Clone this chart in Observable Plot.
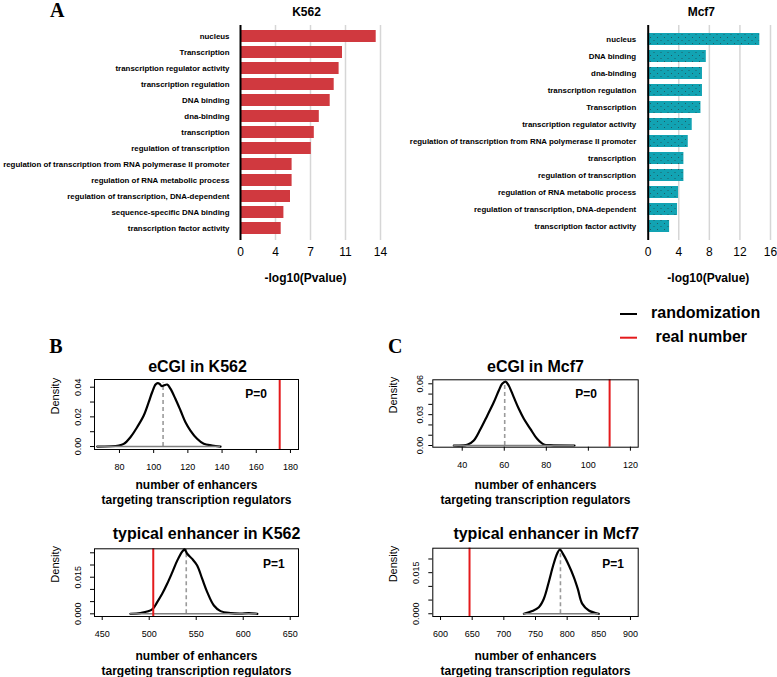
<!DOCTYPE html>
<html>
<head>
<meta charset="utf-8">
<script src="https://cdn.jsdelivr.net/npm/d3@7"></script>
<script src="https://cdn.jsdelivr.net/npm/@observablehq/plot@0.6"></script>
<style>
  html, body { margin: 0; padding: 0; background: #fff; }
  #root { position: relative; width: 777px; height: 677px; overflow: hidden; background: #fff; }
  .pane { position: absolute; }
  .pane svg { overflow: visible; }
</style>
</head>
<body>
<svg width="0" height="0" style="position:absolute">
  <defs>
    <pattern id="dots" width="7" height="6" patternUnits="userSpaceOnUse">
      <rect width="7" height="6" fill="#12a3b3"></rect>
      <circle cx="1.5" cy="1.5" r="0.5" fill="#24454c"></circle>
      <circle cx="5" cy="4.5" r="0.5" fill="#24454c"></circle>
    </pattern>
  </defs>
</svg>
<div id="root"></div>
<script>
// ---------------- data ----------------
const k562Terms = ["nucleus", "Transcription", "transcription regulator activity", "transcription regulation",
  "DNA binding", "dna-binding", "transcription", "regulation of transcription",
  "regulation of transcription from RNA polymerase II promoter", "regulation of RNA metabolic process",
  "regulation of transcription, DNA-dependent", "sequence-specific DNA binding", "transcription factor activity"];
const k562Values = [13.57, 10.2, 9.86, 9.37, 8.97, 7.88, 7.38, 7.08, 5.16, 5.16, 5.0, 4.34, 4.07];
const k562Ticks = [0, 3.5, 7, 10.5, 14];

const mcf7Terms = ["nucleus", "DNA binding", "dna-binding", "transcription regulation", "Transcription",
  "transcription regulator activity", "regulation of transcription from RNA polymerase II promoter",
  "transcription", "regulation of transcription", "regulation of RNA metabolic process",
  "regulation of transcription, DNA-dependent", "transcription factor activity"];
const mcf7Values = [14.6, 7.6, 7.1, 7.1, 6.9, 5.76, 5.24, 4.67, 4.67, 3.97, 3.84, 2.8];
const mcf7Ticks = [0, 4, 8, 12, 16];

const barTitles = ["K562", "Mcf7"];
const barXLabel = "-log10(Pvalue)";

// density curves (randomization)
const kEx = [67, 79.6, 82.5, 86.4, 90.3, 94.2, 97.1, 99.1, 101.1, 102.4, 103.5, 104.6, 106, 107.9, 109.8, 112.7, 115.7, 118.6, 121.5, 125.4, 129.3, 134.2, 139.1];
const kEy = [0, 0.0007, 0.0018, 0.0063, 0.013, 0.0209, 0.0299, 0.0366, 0.0418, 0.0428, 0.0422, 0.0408, 0.0412, 0.0418, 0.039, 0.0322, 0.0243, 0.0164, 0.0108, 0.0052, 0.0018, 0.0007, 0];
const mEx = [36, 42.4, 45.5, 48.7, 51.9, 55.0, 57.4, 59.0, 60.6, 62.1, 64.5, 66.9, 69.3, 72.4, 75.6, 78.8, 82, 93.4];
const mEy = [0, 0.0007, 0.0049, 0.016, 0.029, 0.042, 0.0535, 0.060, 0.0622, 0.0584, 0.047, 0.0357, 0.026, 0.0162, 0.0065, 0.001, 0.0003, 0];
const kTx = [480, 490.7, 503.2, 508.5, 513.8, 519.1, 524.5, 529.8, 535.1, 537.6, 540.4, 545.7, 551, 556.4, 561.7, 568.8, 575.9, 586.5, 597, 606, 615];
const kTy = [0, 0.0003, 0.0018, 0.0048, 0.0082, 0.0123, 0.017, 0.0218, 0.0255, 0.0264, 0.0246, 0.0225, 0.0198, 0.0143, 0.0089, 0.0034, 0.0011, 0.0003, 0.0001, 0.0003, 0];
const mTx = [731.6, 744.8, 755.3, 763.2, 771, 778, 784.3, 788.4, 794.7, 802.6, 810.5, 816.8, 823.7, 834.2, 850];
const mTy = [0, 0.001, 0.0024, 0.0055, 0.0116, 0.0177, 0.022, 0.0234, 0.0213, 0.0177, 0.0134, 0.0091, 0.0037, 0.0012, 0];

const meanValues = [105.5, 60.2, 539.4, 789.4];   // dashed grey lines
const realValues = [173.7, 110.1, 504.3, 645.8];  // red lines
const pValues = ["P=0", "P=0", "P=1", "P=1"];
const densityTitles = ["eCGI in K562", "eCGI in Mcf7", "typical enhancer in K562", "typical enhancer in Mcf7"];
const densityXLabel = "number of enhancers\ntargeting transcription regulators";
const densityYLabel = "Density";

const xTicksList = [[80, 100, 120, 140, 160, 180], [40, 60, 80, 100, 120], [450, 500, 550, 600, 650], [600, 650, 700, 750, 800, 850, 900]];
const yTicksList = [[0, 0.01, 0.02, 0.03, 0.04], [0, 0.01, 0.02, 0.03, 0.04, 0.05, 0.06], [0, 0.005, 0.01, 0.015, 0.02, 0.025], [0, 0.005, 0.01, 0.015, 0.02]];
const yLabelList = [[0, 0.02, 0.04], [0, 0.03, 0.06], [0, 0.015], [0, 0.015]];

const legendLabels = ["randomization", " real number"];
const panelLetters = ["A", "B", "C"];

// ---------------- style ----------------
const FONT = '"Liberation Sans", Arial, Helvetica, sans-serif';
const RED = "#e41a1c";
const BAR_RED = "#d0393f";
const TEAL = "#12a3b3";

const root = document.getElementById("root");
function place(node, left, top) {
  const d = document.createElement("div");
  d.className = "pane";
  d.style.left = left + "px";
  d.style.top = top + "px";
  d.appendChild(node);
  root.appendChild(d);
}

function barPanel(terms, values, ticks, o) {
  const data = terms.map((t, i) => ({term: t, value: values[i]}));
  return Plot.plot({
    width: o.w, height: 290, marginLeft: o.ml, marginRight: o.mr, marginTop: 25, marginBottom: 50,
    style: {fontFamily: FONT, background: "transparent", color: "black", overflow: "visible"},
    x: {domain: [ticks[0], ticks[ticks.length - 1]]},
    y: {domain: terms, paddingInner: o.pi, paddingOuter: o.po},
    marks: [
      Plot.ruleX(ticks.slice(1), {stroke: "#d6d6d6", strokeWidth: 1.5}),
      Plot.barX(data, {x: "value", y: "term", fill: o.fill}),
      Plot.ruleX([0], {stroke: "black", strokeWidth: 2}),
      Plot.axisX({ticks, tickSize: 0, tickPadding: 6.5, fontSize: 12, label: null}),
      Plot.axisY({tickSize: 0, tickPadding: o.yPad, fontSize: 7.9, fontWeight: "bold", label: null}),
      Plot.text([o.title], {frameAnchor: "top", dx: o.tdx, dy: -13, fontSize: 12, fontWeight: "bold", lineAnchor: "middle", text: d => d}),
      Plot.text([barXLabel], {frameAnchor: "bottom", dx: o.ldx, dy: 38, fontSize: 12, fontWeight: "bold", lineAnchor: "middle", text: d => d})
    ]
  });
}

const k562Plot = barPanel(k562Terms, k562Values, k562Ticks,
  {w: 390, ml: 240, mr: 10, pi: 0.23, po: 0.25, fill: BAR_RED, yPad: 11, title: barTitles[0], tdx: -4, ldx: -5});
place(k562Plot, 0, 0);

const mcf7Plot = barPanel(mcf7Terms, mcf7Values, mcf7Ticks,
  {w: 387, ml: 257.7, mr: 7, pi: 0.27, po: 0.16, fill: TEAL, yPad: 12, title: barTitles[1], tdx: -8, ldx: -1});
d3.select(mcf7Plot).selectAll('g[aria-label="bar"] rect').attr("fill", "url(#dots)");
place(mcf7Plot, 390, 0);

// ---------------- density panels ----------------
const layouts = [
  {left: 0, top: 355, w: 390, h: 150, ml: 94, mr: 92, mt: 24, mb: 56, xDomain: [65.4, 184.7], yDomain: [-0.002, 0.0452], dec: 2, yPad: 9.5, tdx: 1, tdy: -13, pdx: -42.3, pdy: 14.3, ldy: 42.5},
  {left: 380, top: 355, w: 397, h: 150, ml: 52.3, mr: 139.3, mt: 24.3, mb: 58.3, xDomain: [26.0, 123.7], yDomain: [-0.00165, 0.0639], dec: 2, yPad: 6, tdx: 0, tdy: -13.3, pdx: -52.2, pdy: 14.7, ldy: 44.5},
  {left: 0, top: 510, w: 390, h: 167, ml: 94, mr: 92, mt: 38.3, mb: 61, xDomain: [441.8, 658.8], yDomain: [-0.0011, 0.02664], dec: 3, yPad: 9.5, tdx: 10, tdy: -15, pdx: -24.7, pdy: 15.7, ldy: 46.5},
  {left: 380, top: 510, w: 397, h: 167, ml: 52.3, mr: 139.3, mt: 37.7, mb: 61, xDomain: [587.8, 912.2], yDomain: [-0.001, 0.02394], dec: 3, yPad: 10, tdx: 10.8, tdy: -14.4, pdx: -25, pdy: 16.3, ldy: 46.5}
];
const curvesX = [kEx, mEx, kTx, mTx];
const curvesY = [kEy, mEy, kTy, mTy];

layouts.forEach((c, i) => {
  const xs = curvesX[i], ys = curvesY[i];
  const curve = xs.map((x, j) => ({x, y: ys[j]}));
  const peak = d3.max(ys);
  const labels = yLabelList[i];
  const p = Plot.plot({
    width: c.w, height: c.h, marginLeft: c.ml, marginRight: c.mr, marginTop: c.mt, marginBottom: c.mb,
    style: {fontFamily: FONT, fontSize: "9px", background: "transparent", color: "black", overflow: "visible"},
    x: {domain: c.xDomain},
    y: {domain: c.yDomain},
    marks: [
      Plot.ruleX([meanValues[i]], {y1: 0, y2: peak, stroke: "#9a9a9a", strokeWidth: 1.6, strokeDasharray: "4,3"}),
      Plot.line(curve, {x: "x", y: "y", stroke: "black", strokeWidth: 2.2, curve: "catmull-rom"}),
      Plot.ruleY([0], {x1: d3.min(xs), x2: d3.max(xs), stroke: "#7f7f7f", strokeWidth: 1.4}),
      Plot.ruleX([realValues[i]], {stroke: RED, strokeWidth: 2}),
      Plot.frame({stroke: "black", strokeWidth: 1}),
      Plot.axisX({ticks: xTicksList[i], tickSize: 4, tickPadding: 10, fontSize: 9, label: null}),
      Plot.axisY({ticks: yTicksList[i], tickSize: 4, tickPadding: c.yPad, tickRotate: -90, fontSize: 9, label: null,
        tickFormat: d => labels.includes(d) ? d.toFixed(c.dec) : ""}),
      Plot.text([densityTitles[i]], {frameAnchor: "top", dx: c.tdx, dy: c.tdy, fontSize: 16, fontWeight: "bold", lineAnchor: "middle", text: d => d}),
      Plot.text([pValues[i]], {frameAnchor: "top-right", dx: c.pdx, dy: c.pdy, fontSize: 12, fontWeight: "bold", textAnchor: "middle", lineAnchor: "middle", text: d => d}),
      Plot.text([densityXLabel], {frameAnchor: "bottom", dy: c.ldy, fontSize: 12, fontWeight: "bold", lineHeight: 1.25, lineAnchor: "middle", text: d => d}),
      Plot.text([densityYLabel], {frameAnchor: "left", dx: -39, rotate: -90, fontSize: 11, lineAnchor: "middle", text: d => d})
    ]
  });
  place(p, c.left, c.top);
});

// ---------------- overlay: panel letters and legend ----------------
const ov = d3.select(root).append("svg")
  .attr("width", 777).attr("height", 677)
  .style("position", "absolute").style("left", "0px").style("top", "0px")
  .style("pointer-events", "none");
const letterPos = [[50, 16.7], [49.3, 353.3], [388, 353]];
panelLetters.forEach((L, i) => {
  ov.append("text").attr("x", letterPos[i][0]).attr("y", letterPos[i][1])
    .attr("font-family", '"Liberation Serif", "Times New Roman", serif').attr("font-weight", "bold")
    .attr("font-size", 20).text(L);
});
const legendColors = ["black", RED];
const legendY = [314, 337.7];
legendLabels.forEach((lab, i) => {
  ov.append("line").attr("x1", 620).attr("x2", 637).attr("y1", legendY[i]).attr("y2", legendY[i])
    .attr("stroke", legendColors[i]).attr("stroke-width", 2);
  ov.append("text").attr("x", 651).attr("y", legendY[i] + 4).attr("xml:space", "preserve")
    .style("white-space", "pre")
    .attr("font-family", FONT).attr("font-weight", "bold").attr("font-size", 16).text(lab);
});
</script>
</body>
</html>
